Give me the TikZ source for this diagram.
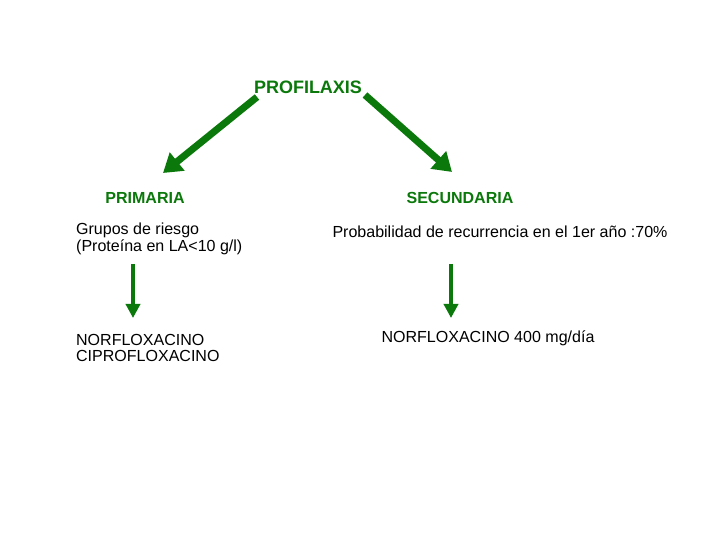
\documentclass[tikz,border=0pt]{standalone}
\usepackage{fontspec}
\setmainfont{Liberation Sans}
\usepackage{xcolor}
\usepackage{tikz}
\usetikzlibrary{arrows.meta}
\usetikzlibrary{positioning}

\definecolor{verde}{RGB}{10,120,10}

\tikzset{
	texto/.style={font=\fontsize{11.4}{12}\selectfont},
	titulo/.style={text=verde, font=\fontsize{11.4}{12}\selectfont\bfseries},
	flechadiag/.style={verde, line width=5pt, -{Triangle[length=13pt,width=16pt]}},
	flechabaja/.style={verde, line width=3.5pt, -{Triangle[length=10pt,width=10pt]}}
}

\begin{document}
\begin{tikzpicture}[scale=1]

	\useasboundingbox (0,0) rectangle (18,13.5);

	\node [titulo, font=\fontsize{12.8}{14}\selectfont\bfseries] (profilaxis) at (7.7,11.325) {PROFILAXIS};

	\node [titulo] (primaria) at (3.625,8.55) {PRIMARIA};

	\node [titulo] (secundaria) at (11.5,8.55) {SECUNDARIA};

	\coordinate (izqini) at (6.425,11.075);
	\coordinate (izqfin) at (4.075,9.175);
	\coordinate (derini) at (9.125,11.125);
	\coordinate (derfin) at (11.3,9.2);

	\draw [flechadiag] (izqini) -- (izqfin);

	\draw [flechadiag] (derini) -- (derfin);

	\node [texto, right, align=left] (grupos) at (1.78,7.5375) {Grupos de riesgo\\(Proteína en LA<10 g/l)};

	\node [texto] (probabilidad) at (12.5,7.7) {Probabilidad de recurrencia en el 1er año :70\%};

	\node [texto, right, align=left] (farmacosprim) at (1.78,4.8) {NORFLOXACINO\\CIPROFLOXACINO};

	\node [texto] (farmacosec) at (12.2,5.05) {NORFLOXACINO 400 mg/día};

	\coordinate (primini) at (3.325,6.9);
	\coordinate (primfin) at (3.325,5.55);
	\coordinate (secini) at (11.275,6.9);
	\coordinate (secfin) at (11.275,5.55);

	\draw [flechabaja] (primini) -- (primfin);

	\draw [flechabaja] (secini) -- (secfin);

\end{tikzpicture}
\end{document}
